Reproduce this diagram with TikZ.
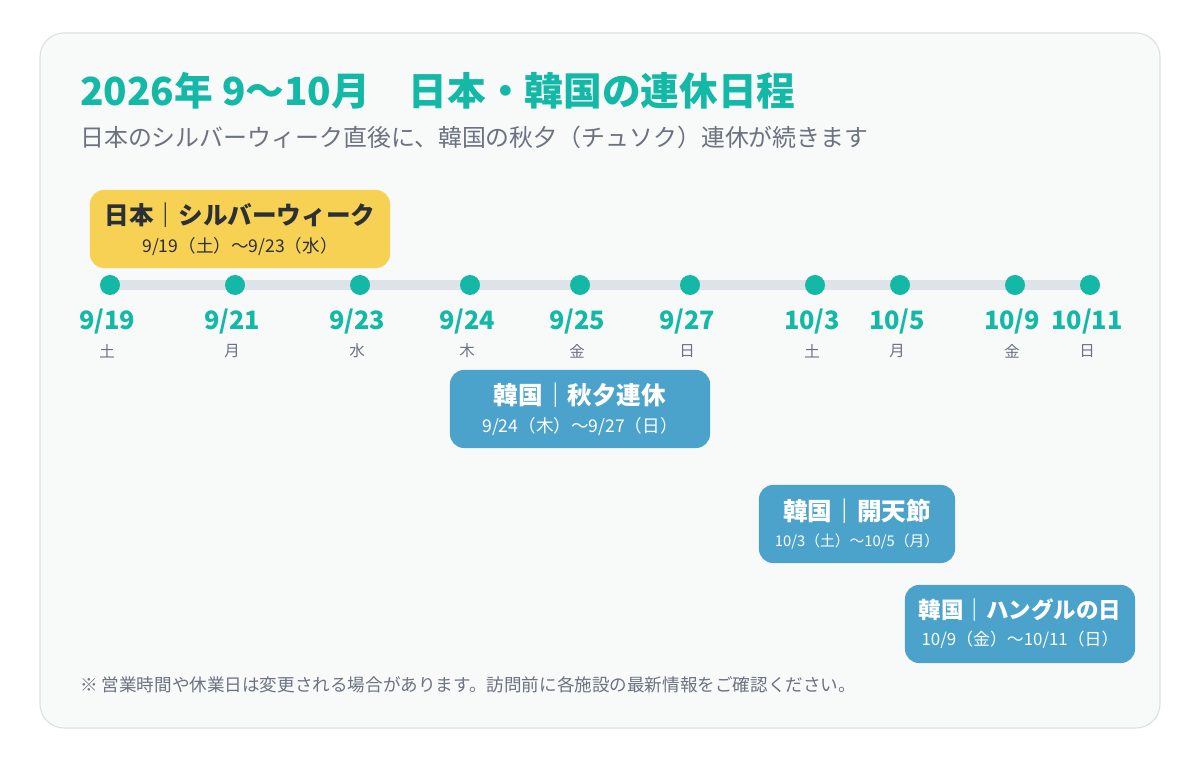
\documentclass[tikz,border=0pt]{standalone}
\usepackage{fontspec}
\setmainfont{Noto Sans CJK JP}
\usetikzlibrary{positioning}
\definecolor{tealc}{HTML}{14B8A6}
\definecolor{card}{HTML}{F8FAFA}
\definecolor{cardline}{HTML}{DCE0E2}
\definecolor{track}{HTML}{DDE3E8}
\definecolor{sub}{HTML}{6B7280}
\definecolor{jpyel}{HTML}{F7D154}
\definecolor{krblue}{HTML}{4BA3CC}
\definecolor{ink}{HTML}{2B2F36}
\newcommand{\hdfont}{\fontsize{17.5}{20}\selectfont\bfseries}
\newcommand{\sbfont}{\fontsize{12.5}{14}\selectfont}
\begin{document}
\begin{tikzpicture}[
        x=0.025cm, y=-0.025cm,
        dot/.style={circle, fill=tealc, minimum size=0.5cm, inner sep=0pt},
        datelbl/.style={text=tealc, font=\fontsize{18}{20}\selectfont\bfseries, inner sep=0pt},
        daylbl/.style={text=sub, font=\fontsize{11}{12}\selectfont, inner sep=0pt},
        jpbox/.style={rectangle, rounded corners=0.35cm, fill=jpyel, text=ink, align=center, inner sep=0pt},
        krbox/.style={rectangle, rounded corners=0.35cm, fill=krblue, text=white, align=center, inner sep=0pt}
    ]
        \useasboundingbox (0,0) rectangle (1200,760);
        \fill[white] (0,0) rectangle (1200,760);
        \draw[cardline, fill=card, line width=0.8pt, rounded corners=0.6cm] (40,33) rectangle (1160,728);

        % Title
        \node (title) [anchor=west, text=tealc, font=\fontsize{27.5}{30}\selectfont\bfseries, inner sep=0pt] at (80,91) {2026年 9〜10月　日本・韓国の連休日程};
        \node (subtitle) [anchor=west, text=sub, font=\fontsize{17}{19}\selectfont, inner sep=0pt] at (80,137) {日本のシルバーウィーク直後に、韓国の秋夕（チュソク）連休が続きます};

        % Timeline
        \coordinate (tstart) at (110,285);
        \coordinate (tend) at (1090,285);
        \draw[track, line width=0.25cm] (tstart) -- (tend);
        \foreach \x/\d/\w [count=\i] in {110/9\slash 19/土, 235/9\slash 21/月, 360/9\slash 23/水, 470/9\slash 24/木, 580/9\slash 25/金, 690/9\slash 27/日, 815/10\slash 3/土, 900/10\slash 5/月, 1015/10\slash 9/金, 1090/10\slash 11/日}{
            \node (d\i) [dot] at (\x,285) {};
            \node (l\i) [datelbl] at (\x-3,322) {\d};
            \node (w\i) [daylbl] at (\x-3,351) {\w};
        }

        % Holiday boxes
        \node (jp) [jpbox, minimum width=7.5cm, minimum height=1.95cm] at (240,229) {{\hdfont 日本｜シルバーウィーク}\\[6pt]{\sbfont 9/19（土）〜9/23（水）}};
        \node (chuseok) [krbox, minimum width=6.5cm, minimum height=1.95cm] at (580,409) {{\hdfont 韓国｜秋夕連休}\\[6pt]{\sbfont 9/24（木）〜9/27（日）}};
        \node (gaecheon) [krbox, minimum width=4.9cm, minimum height=1.95cm] at (857,524) {{\hdfont 韓国｜開天節}\\[6pt]{\fontsize{10.5}{12}\selectfont 10/3（土）〜10/5（月）}};
        \node (hangul) [krbox, minimum width=5.75cm, minimum height=1.95cm] at (1020,624) {{\fontsize{16}{18}\selectfont\bfseries 韓国｜ハングルの日}\\[6pt]{\fontsize{12}{13}\selectfont 10/9（金）〜10/11（日）}};

        % Note
        \node (note) [anchor=west, text=sub, font=\fontsize{12.5}{14}\selectfont, inner sep=0pt] at (80,685) {※ 営業時間や休業日は変更される場合があります。訪問前に各施設の最新情報をご確認ください。};
    \end{tikzpicture}
\end{document}
